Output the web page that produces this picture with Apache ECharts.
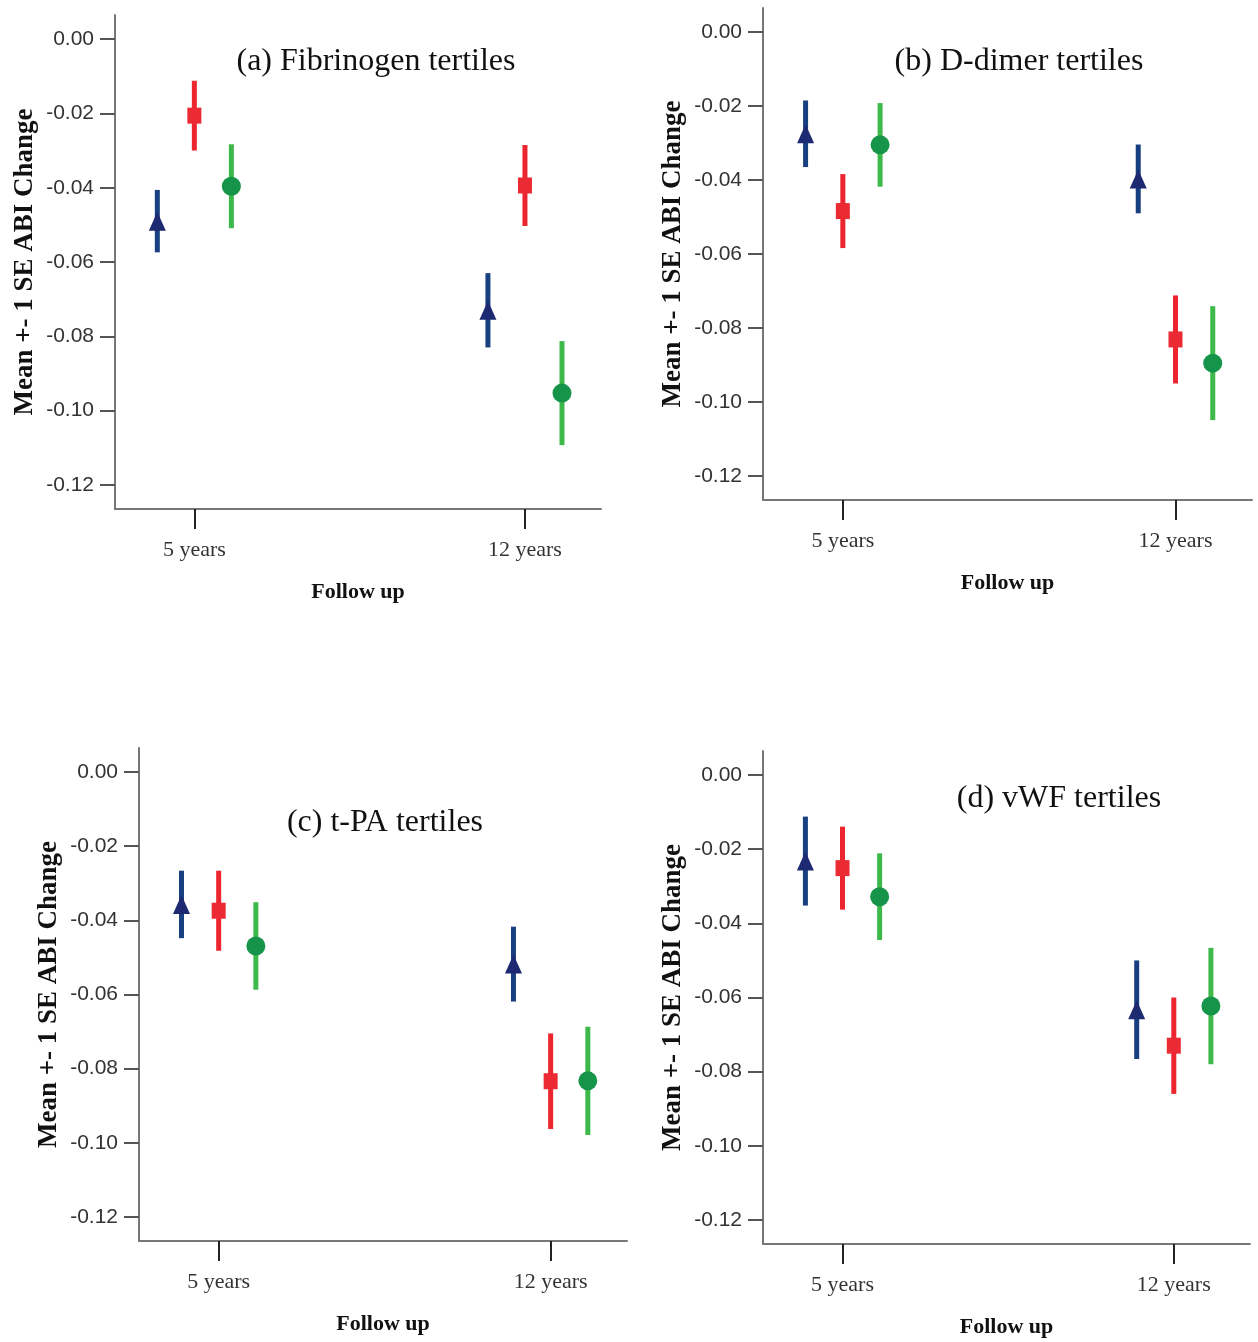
<!DOCTYPE html>
<html>
<head>
<meta charset="utf-8">
<script src="https://cdn.jsdelivr.net/npm/echarts@6/dist/echarts.min.js"></script>
<style>
  body { margin: 0; background: #fff; }
  #chart { width: 1258px; height: 1342px; }
</style>
</head>
<body>
<div id="chart"></div>
<script>
  // follow-up categories and y ticks
  const categories = ['5 years', '12 years']
  const yTicks = [0, -0.02, -0.04, -0.06, -0.08, -0.10, -0.12]
  const panelTitles = ['(a) Fibrinogen tertiles', '(b) D-dimer tertiles', '(c) t-PA tertiles', '(d) vWF tertiles']
  const tertiles = ['Tertile 1', 'Tertile 2', 'Tertile 3']

  // mean ABI change per tertile: [5 years, 12 years]
  const fibrinogenMean = [[-0.049, -0.073], [-0.0206, -0.0394], [-0.0396, -0.0953]]
  const fibrinogenSE = [[0.0084, 0.0100], [0.0094, 0.0109], [0.0113, 0.0140]]
  const ddimerMean = [[-0.0275, -0.0397], [-0.0484, -0.0831], [-0.0305, -0.0895]]
  const ddimerSE = [[0.0090, 0.0093], [0.0100, 0.0119], [0.0113, 0.0154]]
  const tpaMean = [[-0.0357, -0.0518], [-0.0374, -0.0834], [-0.0469, -0.0833]]
  const tpaSE = [[0.0091, 0.0101], [0.0108, 0.0129], [0.0118, 0.0146]]
  const vwfMean = [[-0.0232, -0.0633], [-0.0251, -0.0730], [-0.0328, -0.0623]]
  const vwfSE = [[0.0120, 0.0133], [0.0112, 0.0130], [0.0117, 0.0157]]

  const panelMeans = [fibrinogenMean, ddimerMean, tpaMean, vwfMean]
  const panelSEs = [fibrinogenSE, ddimerSE, tpaSE, vwfSE]

  const barColors = ['#183f80', '#ec252e', '#3db94a']
  const markColors = ['#1d2a72', '#ec2a33', '#16954a']
  const symbols = ['triangle', 'rect', 'circle']
  const symbolSizes = [[17, 19], [14, 16], [19, 19]]
  const dodge = 0.112

  const grids = [
    { left: 115, top: 15, width: 486, height: 494 },
    { left: 763, top: 8, width: 489, height: 492 },
    { left: 139, top: 748, width: 488, height: 493 },
    { left: 763, top: 751, width: 487, height: 493 }
  ]
  const titlePos = [
    { x: 371, y: 41 }, { x: 1014, y: 41 }, { x: 380, y: 802 }, { x: 1054, y: 778 }
  ]

  let chart = echarts.init(document.getElementById('chart'))

  function renderBar (params, api) {
    let x = api.value(0)
    let top = api.coord([x, api.value(2)])
    let bottom = api.coord([x, api.value(1)])
    return {
      type: 'line',
      shape: { x1: top[0], y1: top[1], x2: bottom[0], y2: bottom[1] },
      style: { stroke: api.visual('color'), lineWidth: 5 }
    }
  }

  let xAxes = []
  let yAxes = []
  let series = []
  let titles = []

  grids.forEach((g, p) => {
    xAxes.push({
      gridIndex: p,
      type: 'value',
      min: -0.24,
      max: 1.23,
      name: 'Follow up',
      nameLocation: 'middle',
      nameGap: 72,
      nameTextStyle: { fontFamily: 'Liberation Serif', fontWeight: 'bold', fontSize: 22, color: '#111' },
      axisLine: { show: true, onZero: false, lineStyle: { color: '#777', width: 2 } },
      axisTick: { show: true, customValues: [0, 1], length: 20, lineStyle: { color: '#222', width: 2 } },
      axisLabel: {
        customValues: [0, 1],
        margin: 30,
        fontFamily: 'Liberation Serif',
        fontSize: 22,
        color: '#333',
        formatter: (v) => categories[Math.round(v)]
      },
      splitLine: { show: false }
    })
    yAxes.push({
      gridIndex: p,
      type: 'value',
      min: -0.1265,
      max: 0.0065,
      name: 'Mean +- 1 SE ABI Change',
      nameLocation: 'middle',
      nameGap: 76,
      nameTextStyle: { fontFamily: 'Liberation Serif', fontWeight: 'bold', fontSize: 27, color: '#111' },
      axisLine: { show: true, onZero: false, lineStyle: { color: '#777', width: 2 } },
      axisTick: { show: true, customValues: yTicks, length: 15, lineStyle: { color: '#555', width: 2 } },
      axisLabel: {
        customValues: yTicks,
        margin: 21,
        fontFamily: 'Liberation Sans',
        fontSize: 21,
        color: '#333',
        formatter: (v) => v.toFixed(2)
      },
      splitLine: { show: false }
    })
    titles.push({
      text: panelTitles[p],
      left: titlePos[p].x,
      top: titlePos[p].y,
      textAlign: 'center',
      textStyle: { fontFamily: 'Liberation Serif', fontWeight: 'normal', fontSize: 32, color: '#111' }
    })

    tertiles.forEach((t, k) => {
      let means = panelMeans[p][k]
      let ses = panelSEs[p][k]
      let off = (k - 1) * dodge
      series.push({
        name: t,
        type: 'custom',
        xAxisIndex: p,
        yAxisIndex: p,
        renderItem: renderBar,
        itemStyle: { color: barColors[k] },
        encode: { x: 0, y: [1, 2] },
        data: means.map((m, c) => [c + off, m - ses[c], m + ses[c]]),
        z: 2
      })
      series.push({
        name: t,
        type: 'scatter',
        xAxisIndex: p,
        yAxisIndex: p,
        symbol: symbols[k],
        symbolSize: symbolSizes[k],
        itemStyle: { color: markColors[k], opacity: 1 },
        data: means.map((m, c) => [c + off, m]),
        z: 3
      })
    })
  })

  chart.setOption({
    animation: false,
    backgroundColor: '#fff',
    title: titles,
    grid: grids,
    xAxis: xAxes,
    yAxis: yAxes,
    series: series
  })
</script>
</body>
</html>
